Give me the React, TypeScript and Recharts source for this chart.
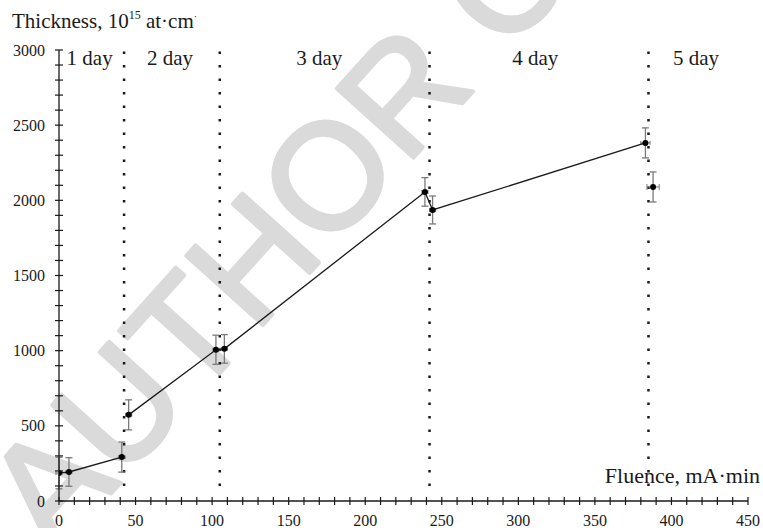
import React from 'react';
import { ComposedChart, Scatter, XAxis, YAxis, ErrorBar, ReferenceLine } from 'recharts';

// ---- data ----
const day1Points = [
  { x: 0, y: 186, ey: 105, ex: 2 },
  { x: 6.5, y: 193, ey: 95, ex: 2 },
  { x: 41, y: 292, ey: 100, ex: 2 },
];
const day2to4Points = [
  { x: 45.5, y: 573, ey: 100, ex: 2 },
  { x: 102.5, y: 1006, ey: 97, ex: 2 },
  { x: 108, y: 1012, ey: 95, ex: 2 },
  { x: 239, y: 2056, ey: 95, ex: 2 },
  { x: 244, y: 1936, ey: 93, ex: 2 },
  { x: 383, y: 2382, ey: 100, ex: 3 },
];
const day5Points = [{ x: 388, y: 2089, ey: 100, ex: 4 }];

const dayBoundaries = [42.5, 105, 242, 385];
const dayLabels = [
  { x: 20, y: 2900, label: '1 day' },
  { x: 72.5, y: 2900, label: '2 day' },
  { x: 170, y: 2900, label: '3 day' },
  { x: 311, y: 2900, label: '4 day' },
  { x: 416, y: 2900, label: '5 day' },
];

const xLabelTicks = [0, 50, 100, 150, 200, 250, 300, 350, 400, 450];
const yLabelTicks = [0, 500, 1000, 1500, 2000, 2500, 3000];
const xMinorStep = 10;
const yMinorStep = 100;
const xTicks = Array.from({ length: 450 / xMinorStep + 1 }, (_, i) => i * xMinorStep);
const yTicks = Array.from({ length: 3000 / yMinorStep + 1 }, (_, i) => i * yMinorStep);

const SERIF = '"Liberation Serif", "Times New Roman", serif';
const INK = '#1a1a1a';
const ERR = '#7a7a7a';

const XTick = (props: any) => {
  const { x, y, payload } = props;
  const v = payload.value;
  const labeled = xLabelTicks.includes(v);
  return (
    <g>
      <line x1={x} x2={x} y1={y - 4} y2={y + 4} stroke={INK} strokeWidth={1.2} />
      {labeled && (
        <text x={x} y={y + 19} textAnchor="middle" dominantBaseline="central" fontFamily={SERIF} fontSize={16} fill={INK}>
          {v}
        </text>
      )}
    </g>
  );
};

const YTick = (props: any) => {
  const { x, y, payload } = props;
  const v = payload.value;
  const labeled = yLabelTicks.includes(v);
  return (
    <g>
      <line x1={x - 4} x2={x + 4} y1={y} y2={y} stroke={INK} strokeWidth={1.2} />
      {labeled && (
        <text x={x - 14} y={y} textAnchor="end" dominantBaseline="central" fontFamily={SERIF} fontSize={16} fill={INK}>
          {v}
        </text>
      )}
    </g>
  );
};

const Dot = (props: any) => {
  const { cx, cy } = props;
  if (cx == null || cy == null) return null;
  return <circle cx={cx} cy={cy} r={3} fill="#000" />;
};

const DayText = (props: any) => {
  const { cx, cy, payload } = props;
  if (cx == null || cy == null) return null;
  return (
    <text x={cx} y={cy} textAnchor="middle" fontFamily={SERIF} fontSize={21} fill={INK}>
      {payload.label}
    </text>
  );
};

export default function App() {
  return (
    <div style={{ position: 'absolute', left: 0, top: 0, width: 763, height: 528, background: '#fff' }}>
      <svg width={763} height={528} style={{ position: 'absolute', left: 0, top: 0 }}>
        <text
          x={54}
          y={557}
          transform="rotate(-48 54 557)"
          fontFamily='"Liberation Sans", Arial, sans-serif'
          fontSize={150}
          fill="#dadada"
          stroke="#dadada"
          strokeWidth={4}
          strokeLinejoin="round"
        >
          AUTHOR COPY
        </text>
        <text x={12} y={28} fontFamily={SERIF} fontSize={21} fill={INK}>
          Thickness, 10
          <tspan fontSize={12} dy={-9}>15</tspan>
          <tspan dy={9}> at·cm</tspan>
          <tspan fontSize={10} dy={-8}>·</tspan>
        </text>
        <text x={760} y={483} textAnchor="end" fontFamily={SERIF} fontSize={22} fill={INK}>
          Fluence, mA·min
        </text>
      </svg>
      <div style={{ position: 'absolute', left: 0, top: 0 }}>
        <ComposedChart width={763} height={528} margin={{ top: 50, right: 15, bottom: 0, left: 0 }}>
          <XAxis
            type="number"
            dataKey="x"
            domain={[0, 450]}
            ticks={xTicks}
            interval={0}
            tickSize={0}
            tickMargin={0}
            tickLine={false}
            tick={<XTick />}
            height={27}
            axisLine={{ stroke: INK, strokeWidth: 1.3 }}
            allowDataOverflow
          />
          <YAxis
            type="number"
            dataKey="y"
            domain={[0, 3000]}
            ticks={yTicks}
            interval={0}
            tickSize={0}
            tickMargin={0}
            tickLine={false}
            tick={<YTick />}
            width={59}
            axisLine={{ stroke: INK, strokeWidth: 1.3 }}
            allowDataOverflow
          />
          {dayBoundaries.map((b) => (
            <ReferenceLine
              key={b}
              segment={[{ x: b, y: 100 }, { x: b, y: 3030 }]}
              stroke={INK}
              strokeWidth={2.5}
              strokeDasharray="2.5 11"
              ifOverflow="visible"
            />
          ))}
          <Scatter data={dayLabels} dataKey="y" shape={<DayText />} isAnimationActive={false} />
          <Scatter
            data={day1Points}
            dataKey="y"
            line={{ stroke: INK, strokeWidth: 1.3 }}
            shape={<Dot />}
            isAnimationActive={false}
          >
            <ErrorBar dataKey="ey" direction="y" width={3.5} stroke={ERR} strokeWidth={1.3} isAnimationActive={false} />
            <ErrorBar dataKey="ex" direction="x" width={2} stroke={ERR} strokeWidth={1} isAnimationActive={false} />
          </Scatter>
          <Scatter
            data={day2to4Points}
            dataKey="y"
            line={{ stroke: INK, strokeWidth: 1.3 }}
            shape={<Dot />}
            isAnimationActive={false}
          >
            <ErrorBar dataKey="ey" direction="y" width={3.5} stroke={ERR} strokeWidth={1.3} isAnimationActive={false} />
            <ErrorBar dataKey="ex" direction="x" width={2} stroke={ERR} strokeWidth={1} isAnimationActive={false} />
          </Scatter>
          <Scatter data={day5Points} dataKey="y" shape={<Dot />} isAnimationActive={false}>
            <ErrorBar dataKey="ey" direction="y" width={3.5} stroke={ERR} strokeWidth={1.3} isAnimationActive={false} />
            <ErrorBar dataKey="ex" direction="x" width={3} stroke={ERR} strokeWidth={1} isAnimationActive={false} />
          </Scatter>
        </ComposedChart>
      </div>
    </div>
  );
}
